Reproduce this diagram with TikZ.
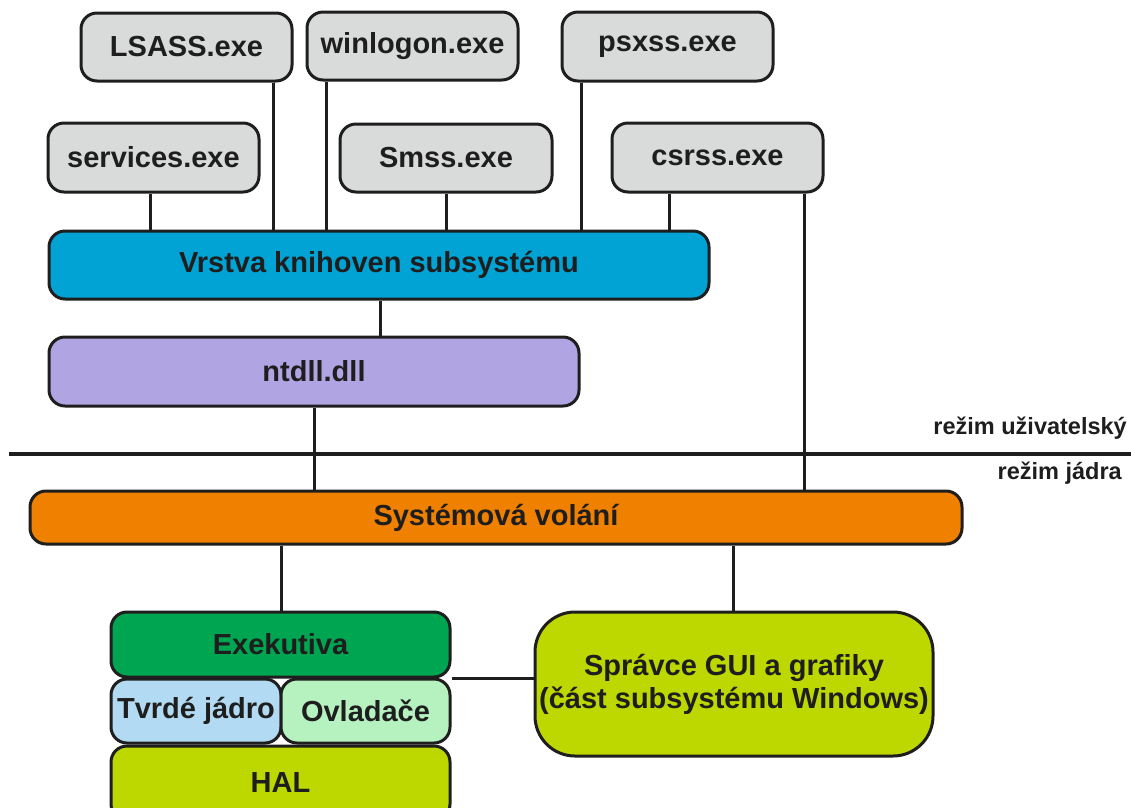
\documentclass[tikz,border=0pt]{standalone}
\usepackage{fontspec}
\setmainfont{Liberation Sans}
\definecolor{edgec}{HTML}{1E1E1E}
\definecolor{grayf}{HTML}{D9DBDA}
\definecolor{bluef}{HTML}{00A3D4}
\definecolor{lavf}{HTML}{B0A4E2}
\definecolor{orangef}{HTML}{F08000}
\definecolor{greenf}{HTML}{00A551}
\definecolor{lbluef}{HTML}{B2DAF2}
\definecolor{lgreenf}{HTML}{B6F2C0}
\definecolor{yellowf}{HTML}{BDD700}
\tikzset{
  box/.style={draw=edgec, line width=3pt, rounded corners=16pt, inner sep=0pt,
    align=center, text=edgec, font=\fontsize{29}{33}\selectfont\bfseries},
  wire/.style={draw=edgec, line width=3pt},
  modelabel/.style={anchor=east, inner sep=0pt, text=edgec, font=\fontsize{23.5}{26}\selectfont\bfseries}
}
\begin{document}
\begin{tikzpicture}[x=1pt,y=-1pt]
\useasboundingbox (0,0) rectangle (1131,807);
% user-mode processes
\node[box, fill=grayf, minimum width=211pt, minimum height=68pt] (lsass) at (186.5,47) {LSASS.exe};
\node[box, fill=grayf, minimum width=211pt, minimum height=68pt] (winlogon) at (412.5,46) {winlogon.exe};
\node[box, fill=grayf, minimum width=211pt, minimum height=69pt] (psxss) at (667.5,46.5) {psxss.exe};
\node[box, fill=grayf, minimum width=211pt, minimum height=69pt] (services) at (153.5,157.5) {services.exe};
\node[box, fill=grayf, minimum width=212pt, minimum height=68pt] (smss) at (446,158) {Smss.exe};
\node[box, fill=grayf, minimum width=211pt, minimum height=69pt] (csrss) at (717.5,157.5) {csrss.exe};
% layers
\node[box, fill=bluef, minimum width=660pt, minimum height=68pt] (vrstva) at (379,265) {Vrstva knihoven subsystému};
\node[box, fill=lavf, minimum width=530pt, minimum height=69pt] (ntdll) at (314,371.5) {ntdll.dll};
\node[box, fill=orangef, minimum width=932pt, minimum height=53pt] (sys) at (496,517.5) {Systémová volání};
% kernel
\node[box, fill=greenf, minimum width=339pt, minimum height=65pt] (exek) at (280.5,644.5) {Exekutiva};
\node[box, fill=lbluef, minimum width=170pt, minimum height=64pt] (tvrde) at (196,711) {Tvrdé jádro};
\node[box, fill=lgreenf, minimum width=169pt, minimum height=64pt] (ovl) at (365.5,711) {Ovladače};
\node[box, fill=yellowf, minimum width=339pt, minimum height=74pt] (hal) at (280.5,783) {HAL};
\node[box, fill=yellowf, rounded corners=40pt, minimum width=398pt, minimum height=144pt] (spravce) at (734,684) {Správce GUI a grafiky\\(část subsystému Windows)};
% connectors
\draw[wire] (273.5,0 |- lsass.south) -- (273.5,0 |- vrstva.north);
\draw[wire] (326,0 |- winlogon.south) -- (326,0 |- vrstva.north);
\draw[wire] (581,0 |- psxss.south) -- (581,0 |- vrstva.north);
\draw[wire] (150,0 |- services.south) -- (150,0 |- vrstva.north);
\draw[wire] (446,0 |- smss.south) -- (446,0 |- vrstva.north);
\draw[wire] (669,0 |- csrss.south) -- (669,0 |- vrstva.north);
\draw[wire] (804,0 |- csrss.south) -- (804,0 |- sys.north);
\draw[wire] (380,0 |- vrstva.south) -- (380,0 |- ntdll.north);
\draw[wire] (314,0 |- ntdll.south) -- (314,0 |- sys.north);
\draw[wire] (281,0 |- sys.south) -- (281,0 |- exek.north);
\draw[wire] (733,0 |- sys.south) -- (733,0 |- spravce.north);
\draw[wire] (exek.south east) -- (exek.south east -| spravce.west);
% mode separator
\draw[edgec, line width=4pt] (9,454) -- (1131,454);
\node[modelabel] (user) at (1127,428) {režim uživatelský};
\node[modelabel] (kern) at (1122,473) {režim jádra};
\end{tikzpicture}
\end{document}
